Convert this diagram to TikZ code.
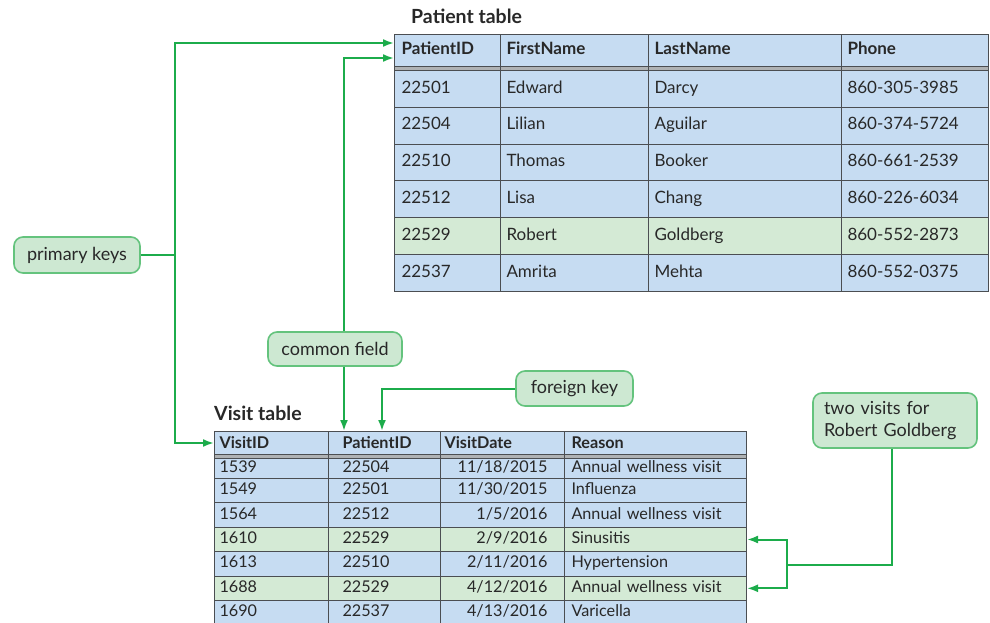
\documentclass[tikz,border=0pt]{standalone}
\usepackage{fontspec}
\setmainfont{Lato}
\usetikzlibrary{arrows.meta}
\definecolor{pblue}{RGB}{198,220,242}
\definecolor{pgreen}{RGB}{212,234,213}
\definecolor{gridc}{RGB}{75,78,82}
\definecolor{bandc}{RGB}{175,178,180}
\definecolor{agreen}{RGB}{28,172,75}
\definecolor{cfill}{RGB}{205,232,210}
\definecolor{cbord}{RGB}{100,195,125}
\definecolor{txt}{RGB}{40,40,40}
\newcommand\tc[9]{%
 \pgfmathsetmacro\tcw{#4-2*#8}%
 \node[cellbox,fill=#6,#7,minimum height=#5pt,inner xsep=#8pt,text width=\tcw pt] (#1) at (#2,#3) {#9};}
\begin{document}
\begin{tikzpicture}[x=1pt,y=-1pt,
 cellbox/.style={draw=gridc,line width=1pt,anchor=north west,inner ysep=0pt,text=txt},
 pf/.style={font=\fontsize{17}{20}\selectfont,text height=12pt,text depth=3.5pt,align=left},
 pfb/.style={pf,font=\bfseries\fontsize{17}{20}\selectfont},
 vf/.style={font=\fontsize{16.2}{19}\selectfont,text height=11pt,text depth=3pt,align=left},
 vfr/.style={vf,align=right},
 vfb/.style={vf,font=\bfseries\fontsize{16.2}{19}\selectfont,text height=12pt,text depth=2pt},
 callout/.style={draw=cbord,fill=cfill,rounded corners=9pt,line width=1.6pt,inner sep=0pt,text=txt,font=\fontsize{18}{21}\selectfont},
 ln/.style={draw=agreen,line width=2pt},
 arr/.style={ln,-{Latex[length=11pt,width=8pt]}},
 ttl/.style={anchor=base west,inner sep=0pt,text=txt,font=\bfseries\fontsize{19.5}{22}\selectfont}]
\useasboundingbox (0,0) rectangle (990,623);
\clip (0,0) rectangle (990,623);
\fill[white] (0,0) rectangle (990,623);

% ---------- Patient table ----------
\node[ttl] (ptitle) at (411,24) {Patient table};
\fill[bandc] (394,66) rectangle (988,70);
\foreach \xx in {394,500,648,841,988} \draw[gridc,line width=1pt] (\xx,66) -- (\xx,70);
\tc{ph1}{394}{34}{106}{32}{pblue}{pfb}{7}{PatientID}
\tc{ph2}{500}{34}{148}{32}{pblue}{pfb}{6}{FirstName}
\tc{ph3}{648}{34}{193}{32}{pblue}{pfb}{6}{LastName}
\tc{ph4}{841}{34}{147}{32}{pblue}{pfb}{6}{Phone}
\foreach \i/\a/\b/\c/\d/\f in {
 1/22501/Edward/Darcy/860-305-3985/pblue,
 2/22504/Lilian/Aguilar/860-374-5724/pblue,
 3/22510/Thomas/Booker/860-661-2539/pblue,
 4/22512/Lisa/Chang/860-226-6034/pblue,
 5/22529/Robert/Goldberg/860-552-2873/pgreen,
 6/22537/Amrita/Mehta/860-552-0375/pblue}{
 \pgfmathsetmacro\yy{70+36.8*(\i-1)}
 \tc{p\i-1}{394}{\yy}{106}{36.8}{\f}{pf}{7}{\a}
 \tc{p\i-2}{500}{\yy}{148}{36.8}{\f}{pf}{6}{\b}
 \tc{p\i-3}{648}{\yy}{193}{36.8}{\f}{pf}{6}{\c}
 \tc{p\i-4}{841}{\yy}{147}{36.8}{\f}{pf}{6}{\d}
}

% ---------- Visit table ----------
\node[ttl] (vtitle) at (214,420) {Visit table};
\fill[bandc] (214,454) rectangle (746,458);
\foreach \xx in {214,328,440,564,746} \draw[gridc,line width=1pt] (\xx,454) -- (\xx,458);
\tc{vh1}{214}{431}{114}{23}{pblue}{vfb}{5}{VisitID}
\tc{vh2}{328}{431}{112}{23}{pblue}{vfb}{14}{PatientID}
\tc{vh3}{440}{431}{124}{23}{pblue}{vfb}{4}{VisitDate}
\tc{vh4}{564}{431}{182}{23}{pblue}{vfb}{7}{Reason}
\foreach \i/\a/\b/\c/\d/\f in {
 1/1539/22504/{11/18/2015}/Annual wellness visit/pblue,
 2/1549/22501/{11/30/2015}/Influenza/pblue,
 3/1564/22512/{1/5/2016}/Annual wellness visit/pblue,
 4/1610/22529/{2/9/2016}/Sinusitis/pgreen,
 5/1613/22510/{2/11/2016}/Hypertension/pblue,
 6/1688/22529/{4/12/2016}/Annual wellness visit/pgreen,
 7/1690/22537/{4/13/2016}/Varicella/pblue}{
 \pgfmathsetmacro\yy{ifthenelse(\i==1,458,478+24.4*(\i-2))}
 \pgfmathsetmacro\hh{ifthenelse(\i==1,20,24.4)}
 \tc{v\i-1}{214}{\yy}{114}{\hh}{\f}{vf}{5}{\a}
 \tc{v\i-2}{328}{\yy}{112}{\hh}{\f}{vf}{14}{\b}
 \tc{v\i-3}{440}{\yy}{124}{\hh}{\f}{vfr}{17}{\mbox{\c}}
 \tc{v\i-4}{564}{\yy}{182}{\hh}{\f}{vf}{7}{\d}
}

% ---------- Callouts ----------
\node[callout,minimum width=126pt,minimum height=36pt] (pk) at (77,255) {primary keys};
\node[callout,minimum width=134pt,minimum height=34pt] (cf) at (335,349) {common field};
\node[callout,minimum width=117pt,minimum height=35pt] (fk) at (574.5,388.5) {foreign key};
\node[callout,text width=142pt,inner xsep=11pt,minimum height=55pt,align=left,font=\fontsize{18}{22}\selectfont] (tv) at (895,420.5) {two visits for\\Robert Goldberg};

% ---------- Connectors ----------
\coordinate (pkj) at (175,255);
\coordinate (pa1) at ([yshift=-9pt]ph1.north west);
\coordinate (pa2) at ([yshift=-24pt]ph1.north west);
\coordinate (cfn) at ([xshift=9pt]cf.north);
\coordinate (cfs) at ([xshift=9pt]cf.south);
\coordinate (fkt) at ([xshift=54pt]vh2.north west);
\coordinate (tvs) at ([xshift=-3pt]tv.south);
\coordinate (tvj) at (787,565);
\draw[ln] (pk.east) -- (pkj);
\draw[arr] (pkj) |- (pa1);
\draw[arr] (pkj) |- (vh1.west);
\draw[arr] (cfn) |- (pa2);
\draw[arr] (cfs) -- (cfs |- vh2.north);
\draw[arr] (fk.west) -| (fkt);
\draw[ln] (tvs) |- (tvj);
\draw[arr] (tvj) |- (v4-4.east);
\draw[arr] (tvj) |- (v6-4.east);
\end{tikzpicture}
\end{document}
